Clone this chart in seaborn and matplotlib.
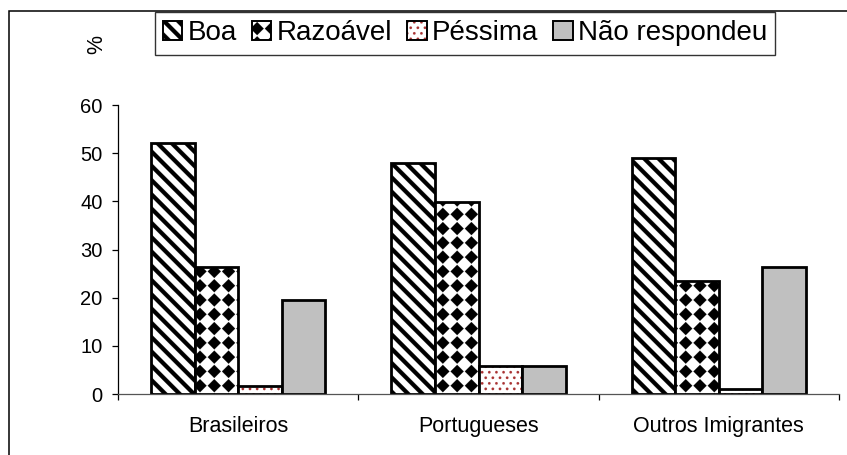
import numpy as np
import pandas as pd
import matplotlib
matplotlib.use("Agg")
import matplotlib.pyplot as plt
import matplotlib.hatch as mhatch
from matplotlib.path import Path
from matplotlib.patches import Patch, Rectangle
from matplotlib.colors import to_rgba
import seaborn as sns

# ---------------- data ----------------
grupos = ["Brasileiros", "Portugueses", "Outros Imigrantes"]
respostas = ["Boa", "Razoável", "Péssima", "Não respondeu"]
boa = [52.1, 47.9, 49.0]
razoavel = [26.3, 39.8, 23.5]
pessima = [1.7, 5.9, 1.0]
nao_respondeu = [19.6, 5.9, 26.3]
y_ticks = [0, 10, 20, 30, 40, 50, 60]
y_label = "%"

# ---------------- custom hatch patterns ----------------
_SQ = [Path.MOVETO, Path.LINETO, Path.LINETO, Path.LINETO, Path.CLOSEPOLY]


class _Stripes(mhatch.HatchPatternBase):
    per_unit = 7
    half = 0.029

    def __init__(self, hatch, density):
        self.n = hatch.count("\\") * self.per_unit
        self.ks = list(range(-1, 2 * self.n + 2)) if self.n else []
        self.num_vertices = len(self.ks) * 5

    def set_vertices_and_codes(self, vertices, codes):
        d = self.half
        x0, x1 = -0.2, 1.2
        parts = []
        for k in self.ks:
            c = k / self.n
            parts.append([(x0, -x0 + c - d), (x1, -x1 + c - d),
                          (x1, -x1 + c + d), (x0, -x0 + c + d),
                          (x0, -x0 + c - d)])
        vertices[:] = np.array(parts, dtype=float).reshape(-1, 2)
        codes[:] = np.tile(_SQ, len(self.ks))


class _Diamonds(mhatch.HatchPatternBase):
    per_unit = 7
    r = 0.46

    def __init__(self, hatch, density):
        self.n = hatch.count("*") * self.per_unit
        self.num_vertices = (self.n + 1) ** 2 * 5 if self.n else 0

    def set_vertices_and_codes(self, vertices, codes):
        s = 1.0 / self.n
        r = self.r * s
        parts = []
        for i in range(self.n + 1):
            for j in range(self.n + 1):
                cx, cy = i * s, j * s
                parts.append([(cx + r, cy), (cx, cy + r), (cx - r, cy),
                              (cx, cy - r), (cx + r, cy)])
        vertices[:] = np.array(parts, dtype=float).reshape(-1, 2)
        codes[:] = np.tile(_SQ, (self.n + 1) ** 2)


class _Dots(mhatch.HatchPatternBase):
    cols = 14
    rows = 18
    rad = 0.0135

    def __init__(self, hatch, density):
        k = hatch.count(".")
        self.centers = []
        if k:
            nc, nr = k * self.cols, k * self.rows
            for j in range(nr + 1):
                if j % 2 == 0:
                    xs = [i / nc for i in range(nc + 1)]
                else:
                    xs = [(i + 0.5) / nc for i in range(nc)]
                for x in xs:
                    self.centers.append((x, j / nr))
        self.poly = Path.unit_regular_polygon(8)
        self.num_vertices = len(self.centers) * len(self.poly.vertices)

    def set_vertices_and_codes(self, vertices, codes):
        v = self.poly.vertices * self.rad
        parts = [v + c for c in self.centers]
        vertices[:] = np.concatenate(parts)
        pc = np.full(len(v), Path.LINETO, dtype=Path.code_type)
        pc[0] = Path.MOVETO
        pc[-1] = Path.CLOSEPOLY
        codes[:] = np.tile(pc, len(self.centers))


mhatch._hatch_types = [_Stripes, _Diamonds, _Dots]

# ---------------- style ----------------
sns.set_style("white")
plt.rcParams["font.family"] = ["Liberation Sans", "DejaVu Sans"]
plt.rcParams["hatch.linewidth"] = 0.1

W, H, DPI = 847, 455, 100
fig = plt.figure(figsize=(W / DPI, H / DPI), dpi=DPI)
ax = fig.add_axes([118 / W, 1 - 394 / H, (839 - 118) / W, (394 - 105) / H])

valores = {"Boa": boa, "Razoável": razoavel, "Péssima": pessima,
           "Não respondeu": nao_respondeu}
df = pd.DataFrame([(g, r, valores[r][i]) for r in respostas
                   for i, g in enumerate(grupos)],
                  columns=["grupo", "resposta", "pct"])

faces = ["white", "white", "white", "#c0c0c0"]
hatches = ["\\", "*", ".", None]
hcolors = ["black", "black", "#a83232", "black"]

sns.barplot(data=df, x="grupo", y="pct", hue="resposta", order=grupos,
            hue_order=respostas, palette=faces, saturation=1, width=0.725,
            gap=0, edgecolor="black", linewidth=2.0, errorbar=None,
            legend=False, ax=ax)

for cont, h, hc in zip(ax.containers, hatches, hcolors):
    for bar in cont:
        if h:
            bar.set_hatch(h)
            bar._hatch_color = to_rgba(hc)

ax.set_xlim(-0.5, len(grupos) - 0.5)
ax.set_ylim(y_ticks[0], y_ticks[-1])
ax.set_yticks(y_ticks)
ax.set_xlabel("")
ax.set_ylabel("")
ax.set_xticks(np.arange(len(grupos)))
ax.set_xticklabels(grupos)
ax.xaxis.set_minor_locator(
    matplotlib.ticker.FixedLocator(np.arange(len(grupos) + 1) - 0.5))

for s in ["top", "right"]:
    ax.spines[s].set_visible(False)
ax.spines["left"].set_color("black")
ax.spines["left"].set_linewidth(0.9)
ax.spines["bottom"].set_color("#555555")
ax.spines["bottom"].set_linewidth(0.9)

ax.tick_params(axis="y", which="major", direction="out", length=4, width=0.9,
               color="black", labelsize=14.5, pad=7, left=True,
               labelcolor="black")
ax.tick_params(axis="x", which="major", length=0, labelsize=15.5, pad=16,
               labelcolor="black")
ax.tick_params(axis="x", which="minor", direction="out", length=4, width=0.9,
               color="black", bottom=True)

fig.text(97 / W, 1 - 45 / H, y_label, rotation=90, ha="center", va="center",
         fontsize=15.5, color="black")

# legend
handles = []
for f, h, hc in zip(faces, hatches, hcolors):
    p = Patch(facecolor=f, edgecolor="black", hatch=h, linewidth=1.4)
    if h:
        p._hatch_color = to_rgba(hc)
    handles.append(p)
leg = fig.legend(handles, respostas, loc="upper center", ncol=4,
                 bbox_to_anchor=(465 / W, 1 - 12 / H), fontsize=20,
                 frameon=True, fancybox=False, shadow=False,
                 handlelength=0.7, handleheight=0.7, handletextpad=0.18,
                 columnspacing=0.55, borderpad=0.3, borderaxespad=0)
leg.get_frame().set_edgecolor("black")
leg.get_frame().set_linewidth(1.0)
for t in leg.get_texts():
    t.set_color("black")

# outer chart-area frame (cropped at right/bottom)
fig.patches.append(Rectangle((8.5 / W, -0.1), 1.2, 1.1 - 11 / H,
                             transform=fig.transFigure, fill=False,
                             edgecolor="black", linewidth=1.1))

fig.savefig("out.png", dpi=DPI)
